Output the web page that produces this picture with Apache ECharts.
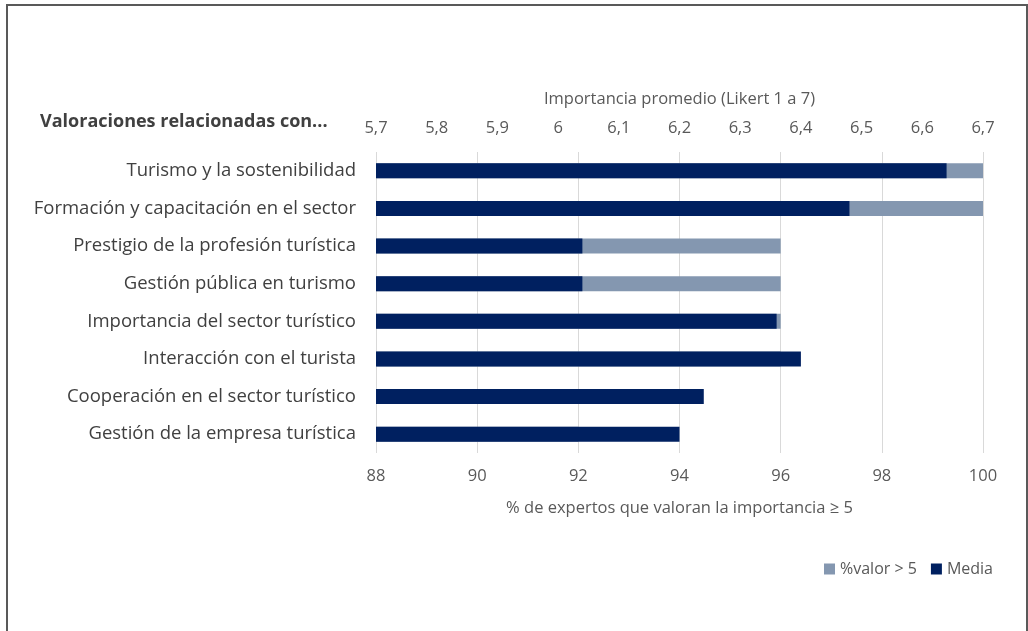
<!DOCTYPE html>
<html>
<head>
<meta charset="utf-8">
<script src="https://cdn.jsdelivr.net/npm/echarts@6/dist/echarts.min.js"></script>
<style>
html,body{margin:0;padding:0;background:#fff;}
#c{width:1028px;height:631px;}
</style>
</head>
<body>
<div id="c"></div>
<script>
const categories = ['Turismo y la sostenibilidad','Formación y capacitación en el sector','Prestigio de la profesión turística','Gestión pública en turismo','Importancia del sector turístico','Interacción con el turista','Cooperación en el sector turístico','Gestión de la empresa turística'];
const pctValues = [100, 100, 96, 96, 96, 96, 92, 92];
const mediaValues = [6.64, 6.48, 6.04, 6.04, 6.36, 6.40, 6.24, 6.20];
const seriesNames = ['%valor > 5', 'Media'];
const titleText = 'Valoraciones relacionadas con...';
const topAxisName = 'Importancia promedio (Likert 1 a 7)';
const bottomAxisName = '% de expertos que valoran la importancia ≥ 5';

const FONT = '"Open Sans", sans-serif';
const chart = echarts.init(document.getElementById('c'), null, {renderer:'canvas'});
function fmtTop(v){
  const r = Math.round(v*10)/10;
  return (Number.isInteger(r) ? String(r) : r.toFixed(1)).replace('.', ',');
}
chart.setOption({
  animation:false,
  backgroundColor:'#fff',
  textStyle:{fontFamily:FONT},
  graphic:[
    {type:'rect', shape:{x:7,y:5,width:1020,height:640}, style:{fill:'none', stroke:'#595959', lineWidth:2}, silent:true},
    {type:'text', left:40, top:113, style:{text:titleText, font:'bold 18px '+FONT, fill:'#404040'}}
  ],
  grid:{left:376, right:45, top:152, bottom:178, containLabel:false},
  legend:{
    data:seriesNames, right:30, top:556, itemWidth:11, itemHeight:11, itemGap:14,
    textStyle:{color:'#595959', fontSize:16, fontFamily:FONT},
    icon:'rect'
  },
  xAxis:[
    {type:'value', position:'bottom', min:88, max:100, interval:2,
     name:bottomAxisName, nameLocation:'middle', nameGap:47,
     nameTextStyle:{color:'#595959', fontSize:16.5, fontFamily:FONT},
     axisLine:{show:false}, axisTick:{show:false},
     axisLabel:{color:'#595959', fontSize:16.5, margin:15, fontFamily:FONT},
     splitLine:{show:true, lineStyle:{color:'#d9d9d9', width:1}}},
    {type:'value', position:'top', min:5.7, max:6.7, interval:0.1,
     name:topAxisName, nameLocation:'middle', nameGap:44,
     nameTextStyle:{color:'#595959', fontSize:16.5, fontFamily:FONT},
     axisLine:{show:false}, axisTick:{show:false},
     axisLabel:{color:'#595959', fontSize:16.5, margin:15, fontFamily:FONT, formatter:fmtTop},
     splitLine:{show:false}}
  ],
  yAxis:{type:'category', data:categories, inverse:true,
    axisLine:{show:false}, axisTick:{show:false},
    axisLabel:{color:'#404040', fontSize:18.5, margin:20, fontFamily:FONT}},
  series:[
    {name:seriesNames[0], type:'bar', xAxisIndex:0, data:pctValues, barWidth:15, barGap:'-100%',
     itemStyle:{color:'#8497b0'}},
    {name:seriesNames[1], type:'bar', xAxisIndex:1, data:mediaValues, barWidth:15, barGap:'-100%',
     itemStyle:{color:'#002060'}}
  ]
});
</script>
</body>
</html>
